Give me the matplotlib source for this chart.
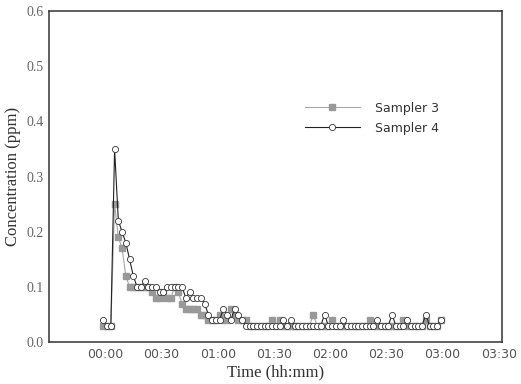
import numpy as np
import matplotlib
matplotlib.use("Agg")
import matplotlib.pyplot as plt

# sampling times in minutes after release (every 2 min)
minutes = np.arange(-1, 180, 2)

# Sampler 3 (grey squares)
sampler3 = [0.03, 0.03, 0.03, 0.25, 0.19, 0.17, 0.12, 0.10, 0.10, 0.10,
            0.10, 0.10, 0.10, 0.09, 0.08, 0.08, 0.09, 0.08, 0.08, 0.10,
            0.09, 0.07, 0.06, 0.06, 0.06, 0.06, 0.05, 0.05, 0.04, 0.04,
            0.04, 0.05, 0.04, 0.04, 0.06, 0.05, 0.04, 0.04, 0.04, 0.03,
            0.03, 0.03, 0.03, 0.03, 0.03, 0.04, 0.03, 0.04, 0.03, 0.03,
            0.03, 0.03, 0.03, 0.03, 0.03, 0.03, 0.05, 0.03, 0.03, 0.03,
            0.03, 0.04, 0.03, 0.03, 0.03, 0.03, 0.03, 0.03, 0.03, 0.03,
            0.03, 0.04, 0.03, 0.03, 0.03, 0.03, 0.03, 0.03, 0.03, 0.03,
            0.04, 0.03, 0.03, 0.03, 0.03, 0.03, 0.04, 0.03, 0.03, 0.03,
            0.04]

# Sampler 4 (open circles)
sampler4 = [0.04, 0.03, 0.03, 0.35, 0.22, 0.20, 0.18, 0.15, 0.12, 0.10,
            0.10, 0.11, 0.10, 0.10, 0.10, 0.09, 0.09, 0.10, 0.10, 0.10,
            0.10, 0.10, 0.08, 0.09, 0.08, 0.08, 0.08, 0.07, 0.05, 0.04,
            0.04, 0.04, 0.06, 0.05, 0.04, 0.06, 0.05, 0.04, 0.03, 0.03,
            0.03, 0.03, 0.03, 0.03, 0.03, 0.03, 0.03, 0.03, 0.04, 0.03,
            0.04, 0.03, 0.03, 0.03, 0.03, 0.03, 0.03, 0.03, 0.03, 0.05,
            0.03, 0.03, 0.03, 0.03, 0.04, 0.03, 0.03, 0.03, 0.03, 0.03,
            0.03, 0.03, 0.03, 0.04, 0.03, 0.03, 0.03, 0.05, 0.03, 0.03,
            0.03, 0.04, 0.03, 0.03, 0.03, 0.03, 0.05, 0.03, 0.03, 0.03,
            0.04]

xticks = [0, 30, 60, 90, 120, 150, 180, 210]
xlabels = ["00:00", "00:30", "01:00", "01:30", "02:00", "02:30", "03:00", "03:30"]
yticks = [0.0, 0.1, 0.2, 0.3, 0.4, 0.5, 0.6]

fig = plt.figure(figsize=(5.21, 3.84), dpi=100)
ax = fig.add_axes([0.094, 0.109, 0.869, 0.862])

ax.plot(minutes, sampler3, color="#a6a6a6", lw=0.8, marker="s", ms=3.8,
        mfc="#999999", mec="#999999", label="Sampler 3", zorder=2)
ax.plot(minutes, sampler4, color="#222222", lw=0.8, marker="o", ms=4.4,
        mfc="white", mec="#333333", mew=0.6, label="Sampler 4", zorder=3)

ax.set_xlim(-30, 211.5)
ax.set_ylim(0, 0.6)
ax.set_xticks(xticks)
ax.set_xticklabels(xlabels, family="DejaVu Sans", fontsize=9, color="#555555")
ax.set_yticks(yticks)
ax.set_yticklabels(["%.1f" % v for v in yticks], family="Liberation Serif",
                   fontsize=10, color="#666666")
ax.tick_params(length=0, pad=4)

for s in ax.spines.values():
    s.set_color("#333333")
    s.set_linewidth(1.1)

ax.set_xlabel("Time (hh:mm)", family="Liberation Serif", fontsize=12,
              color="#333333", labelpad=3)
ax.set_ylabel("Concentration (ppm)", family="Liberation Serif", fontsize=12,
              color="#333333", labelpad=4)

leg = ax.legend(loc="upper left", bbox_to_anchor=(0.54, 0.76), frameon=False,
                prop={"family": "DejaVu Sans", "size": 9}, handlelength=4.4,
                labelspacing=0.55, handletextpad=1.2)
for t in leg.get_texts():
    t.set_color("#333333")

fig.savefig("out.png", dpi=100)
